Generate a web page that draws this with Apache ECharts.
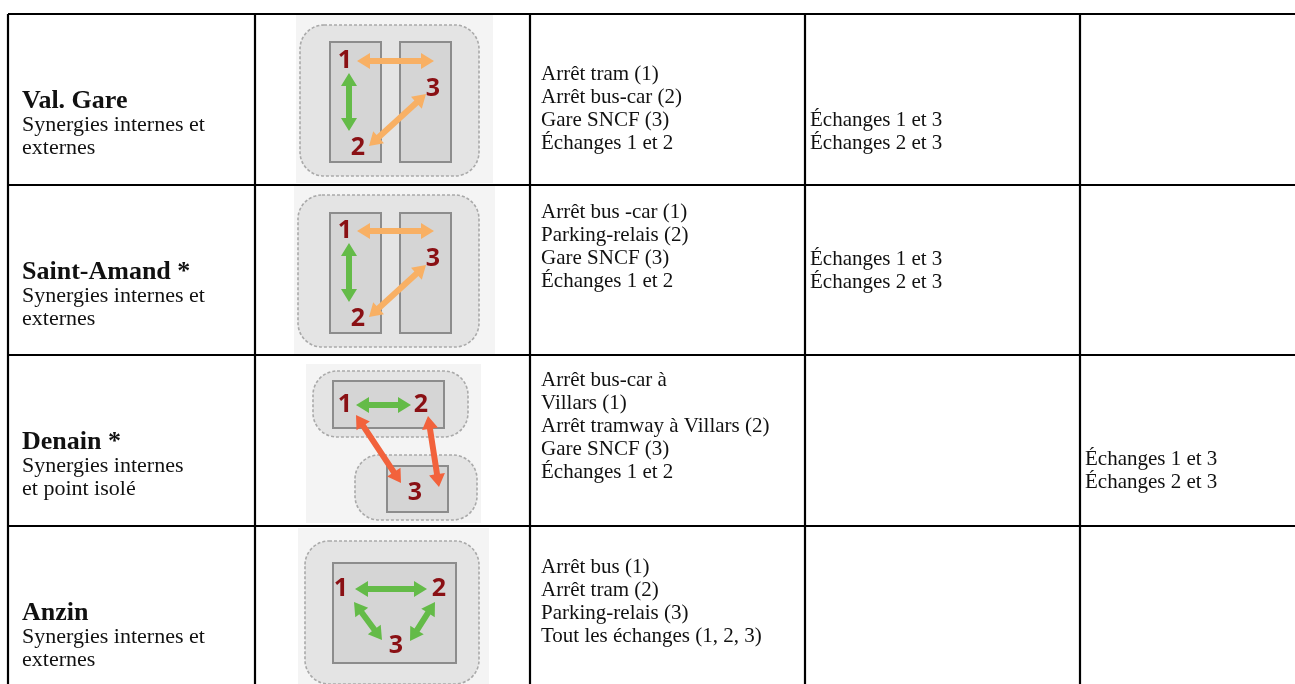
<!DOCTYPE html>
<html><head><meta charset="utf-8">
<script src="https://cdn.jsdelivr.net/npm/echarts@6/dist/echarts.min.js"></script>
<style>html,body{margin:0;padding:0;background:#fff}#c{width:1295px;height:684px}</style>
</head><body><div id="c"></div>
<script>
// ---------------- data ----------------
const sites = ['Val. Gare', 'Saint-Amand *', 'Denain *', 'Anzin'];
const synergies = [
  ['Synergies internes et', 'externes'],
  ['Synergies internes et', 'externes'],
  ['Synergies internes', 'et point isolé'],
  ['Synergies internes et', 'externes']
];
const components = [
  ['Arrêt tram (1)', 'Arrêt bus-car (2)', 'Gare SNCF (3)', 'Échanges 1 et 2'],
  ['Arrêt bus -car (1)', 'Parking-relais (2)', 'Gare SNCF (3)', 'Échanges 1 et 2'],
  ['Arrêt bus-car à', 'Villars (1)', 'Arrêt tramway à Villars (2)', 'Gare SNCF (3)', 'Échanges 1 et 2'],
  ['Arrêt bus (1)', 'Arrêt tram (2)', 'Parking-relais (3)', 'Tout les échanges (1, 2, 3)']
];
const externalExchanges = [['Échanges 1 et 3', 'Échanges 2 et 3'], ['Échanges 1 et 3', 'Échanges 2 et 3'], [], []];
const isolatedExchanges = [[], [], ['Échanges 1 et 3', 'Échanges 2 et 3'], []];
const nodeLabels = ['1', '2', '3'];
// links per diagram: [from, to, kind]
const diagramLinks = [
  [[1, 3, 'ext'], [1, 2, 'int'], [2, 3, 'ext']],
  [[1, 3, 'ext'], [1, 2, 'int'], [2, 3, 'ext']],
  [[1, 2, 'int'], [1, 3, 'iso'], [2, 3, 'iso']],
  [[1, 2, 'int'], [1, 3, 'int'], [2, 3, 'int']]
];

// ---------------- layout (table units) ----------------
const colX = [8, 255, 530, 805, 1080, 1295];
const rowY = [14, 185, 355, 526, 720];
const titleOffset = 87;
const compOffset = [60, 27, 25, 41];
const extOffset = [106, 74, 0, 0];
const isoOffset = [0, 0, 104, 0];
const lineH = 23;
const linkColors = { int: '#64bb48', ext: '#f8b064', iso: '#f2623c' };
// diagram geometry (table units)
const diagramGeom = [
  { bg: [296, 15, 493, 183], zones: [[300, 25, 479, 176]], boxes: [[330, 42, 381, 162], [400, 42, 451, 162]],
    nodes: [[345, 61], [358, 148], [433, 89]],
    arrows: [[[357, 61], [434, 61]], [[349, 73], [349, 131]], [[369, 146], [426, 94]]] },
  { bg: [294, 186, 495, 354], zones: [[298, 195, 479, 347]], boxes: [[330, 213, 381, 333], [400, 213, 451, 333]],
    nodes: [[345, 231], [358, 319], [433, 259]],
    arrows: [[[357, 231], [434, 231]], [[349, 243], [349, 302]], [[369, 317], [426, 265]]] },
  { bg: [306, 364, 481, 523], zones: [[313, 371, 468, 437], [355, 455, 477, 520]], boxes: [[333, 381, 444, 428], [387, 466, 448, 512]],
    nodes: [[345, 405], [421, 405], [415, 493]],
    arrows: [[[356, 405], [411, 405]], [[356, 415], [401, 483]], [[428, 416], [439, 487]]] },
  { bg: [298, 528, 489, 690], zones: [[305, 541, 479, 684]], boxes: [[333, 563, 456, 663]],
    nodes: [[341, 589], [439, 589], [396, 646]],
    arrows: [[[355, 589], [427, 589]], [[354, 602], [382, 640]], [[435, 602], [410, 641]]] }
];

const SERIF = "'Liberation Serif', 'Times New Roman', serif";

function arrowPoints(p1, p2, w, hl, hw) {
  const dx = p2[0] - p1[0], dy = p2[1] - p1[1];
  const L = Math.sqrt(dx * dx + dy * dy);
  const ux = dx / L, uy = dy / L, nx = -uy, ny = ux;
  const a = (p, s, t) => [p[0] + ux * s + nx * t, p[1] + uy * s + ny * t];
  return [p1, a(p1, hl, hw / 2), a(p1, hl, w / 2), a(p2, -hl, w / 2), a(p2, -hl, hw / 2), p2,
    a(p2, -hl, -hw / 2), a(p2, -hl, -w / 2), a(p1, hl, -w / 2), a(p1, hl, -hw / 2)];
}

const chart = echarts.init(document.getElementById('c'), null, { renderer: 'canvas' });

// grid lines data
const hLines = rowY.slice(0, 4).map(y => ({ value: [colX[0], y, colX[5], y] }));
const vLines = colX.slice(0, 5).map(x => ({ value: [x, rowY[0], x, 684] }));

const option = {
  animation: false,
  backgroundColor: '#ffffff',
  grid: { left: 0, right: 0, top: 0, bottom: 0 },
  xAxis: { type: 'value', min: 0, max: 1295, show: false },
  yAxis: { type: 'value', min: 0, max: 684, inverse: true, show: false },
  series: [
    {
      // diagrams
      type: 'custom', coordinateSystem: 'cartesian2d', silent: true, z: 1,
      data: sites.map((s, i) => [i]),
      renderItem: function (params, api) {
        const i = api.value(0);
        const g = diagramGeom[i];
        const children = [];
        const P = (p) => api.coord(p);
        const rectOf = (r) => { const a = P([r[0], r[1]]), b = P([r[2], r[3]]); return { x: a[0], y: a[1], width: b[0] - a[0], height: b[1] - a[1] }; };
        children.push({ type: 'rect', shape: rectOf(g.bg), style: { fill: '#f4f4f4' } });
        g.zones.forEach(z => {
          const r = rectOf(z);
          r.r = Math.min(24, r.height / 2);
          children.push({ type: 'rect', shape: r, style: { fill: '#e4e4e4', stroke: '#a9a9a9', lineWidth: 1.6, lineDash: [3, 2] } });
        });
        g.boxes.forEach(b => {
          children.push({ type: 'rect', shape: rectOf(b), style: { fill: '#d5d5d5', stroke: '#8c8c8c', lineWidth: 2 } });
        });
        diagramLinks[i].forEach((lk, k) => {
          const ar = g.arrows[k];
          const pts = arrowPoints(P(ar[0]), P(ar[1]), 6, 13, 16);
          children.push({ type: 'polygon', shape: { points: pts }, style: { fill: linkColors[lk[2]] } });
        });
        nodeLabels.forEach((lab, k) => {
          const c = P(g.nodes[k]);
          children.push({ type: 'text', style: { text: lab, x: c[0], y: c[1], align: 'center', verticalAlign: 'middle',
            font: "bold 25px 'Open Sans', 'DejaVu Sans', sans-serif", fill: '#8a1014' } });
        });
        return { type: 'group', children: children };
      }
    },
    {
      // table lines
      type: 'custom', coordinateSystem: 'cartesian2d', silent: true, z: 3,
      data: hLines.concat(vLines),
      renderItem: function (params, api) {
        const a = api.coord([api.value(0), api.value(1)]);
        const b = api.coord([api.value(2), api.value(3)]);
        return { type: 'line', shape: { x1: a[0], y1: a[1], x2: b[0], y2: b[1] }, style: { stroke: '#000', lineWidth: 2.2 } };
      }
    },
    {
      // texts
      type: 'custom', coordinateSystem: 'cartesian2d', silent: true, z: 2,
      data: sites.map((s, i) => [i]),
      renderItem: function (params, api) {
        const i = api.value(0);
        const top = rowY[i];
        const children = [];
        const txt = (str, x, y, font) => {
          const c = api.coord([x, y]);
          children.push({ type: 'text', style: { text: str, x: c[0], y: c[1], verticalAlign: 'middle', align: 'left', font: font, fill: '#111' } });
        };
        txt(sites[i], colX[0] + 14, top + titleOffset, 'bold 26px ' + SERIF);
        synergies[i].forEach((s, k) => txt(s, colX[0] + 14, top + titleOffset + 24 + k * 23, '22px ' + SERIF));
        components[i].forEach((s, k) => txt(s, colX[2] + 11, top + compOffset[i] + k * lineH, '21px ' + SERIF));
        externalExchanges[i].forEach((s, k) => txt(s, colX[3] + 5, top + extOffset[i] + k * lineH, '21px ' + SERIF));
        isolatedExchanges[i].forEach((s, k) => txt(s, colX[4] + 5, top + isoOffset[i] + k * lineH, '21px ' + SERIF));
        return { type: 'group', children: children };
      }
    }
  ]
};
chart.setOption(option);
</script>
</body></html>
